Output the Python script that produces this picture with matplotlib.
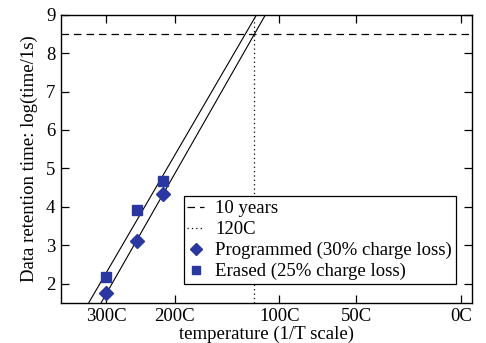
import numpy as np
import matplotlib
matplotlib.use("Agg")
from matplotlib import pyplot

pyplot.rcParams['font.family'] = ['Liberation Serif', 'DejaVu Serif']
pyplot.rcParams['mathtext.fontset'] = 'stix'

# measured points, temperature in C and log10(retention time / 1s)
temp_c = [300, 250, 215]
prog_log_t = [1.75, 3.11, 4.32]
erase_log_t = [2.17, 3.91, 4.66]

tick_temps = [300, 200, 100, 50, 0]
tick_labels = ['300C', '200C', '100C', '50C', '0C']
ten_years = np.log10(10 * 365 * 24 * 3600)
t_120 = 120

def inv_t(c):
    return 1000.0 / (np.asarray(c, dtype=float) + 273.15)

x_pts = inv_t(temp_c)
xlo, xhi = 1.5, 3.72
xs = np.linspace(xlo, xhi, 200)

fig = pyplot.figure(figsize=(4.86, 3.43), dpi=100)
ax = fig.add_axes([0.1255, 0.1175, 0.8455, 0.8395])

col = '#2b37a0'
# fits (Arrhenius lines)
pp = np.polyfit(x_pts, prog_log_t, 1)
pe = np.polyfit(x_pts, erase_log_t, 1)
ax.plot(xs, np.polyval(pp, xs), color='black', lw=0.8)
ax.plot(xs, np.polyval(pe, xs), color='black', lw=0.8)

ax.axhline(ten_years, color='black', lw=0.9, ls=(0, (6, 4)), label='10 years')
ax.axvline(inv_t(t_120), color='black', lw=0.9, ls=(0, (1, 2.5)), label='120C')
ax.plot(x_pts, prog_log_t, ls='none', marker='D', ms=7.5, color=col, mec=col,
        label='Programmed (30% charge loss)')
ax.plot(x_pts, erase_log_t, ls='none', marker='s', ms=6.5, color=col, mec=col,
        label='Erased (25% charge loss)')

ax.set_xlim(xlo, xhi)
ax.set_ylim(1.5, 9)
ax.set_xticks(inv_t(tick_temps))
ax.set_xticklabels(tick_labels)
ax.set_yticks(range(2, 10))
ax.tick_params(direction='in', top=True, right=True, length=6, width=0.9,
               labelsize=13.5, pad=4)
for s in ax.spines.values():
    s.set_linewidth(1.0)

ax.set_xlabel('temperature (1/T scale)', fontsize=13.5, labelpad=0)
ax.set_ylabel('Data retention time: log(time/1s)', fontsize=13.5, labelpad=6)

leg = ax.legend(loc='lower right', bbox_to_anchor=(0.961, 0.065), fontsize=13.5,
                frameon=True, fancybox=False, edgecolor='black', framealpha=1,
                handlelength=0.9, handletextpad=0.6, borderpad=0.2,
                labelspacing=0.2, borderaxespad=0, markerscale=0.85)
leg.get_frame().set_linewidth(0.9)

pyplot.savefig('out.png', dpi=100)
